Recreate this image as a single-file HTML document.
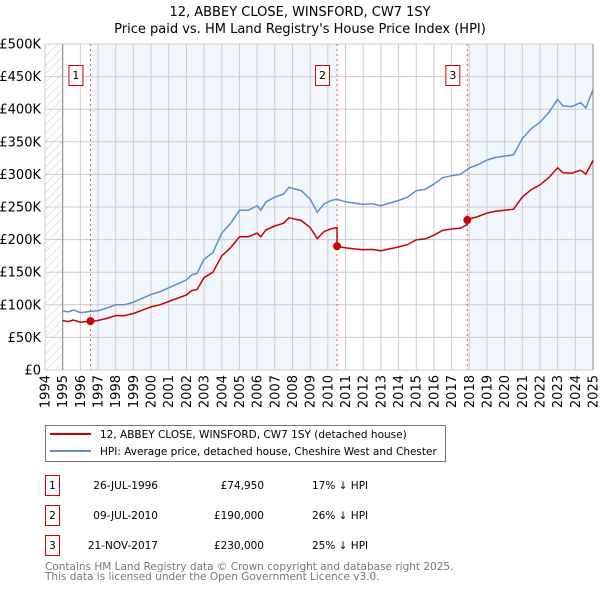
<!DOCTYPE html>
<html><head><meta charset="utf-8"><style>
body{margin:0;background:#fff;}
svg{display:block;font-family:"DejaVu Sans","Liberation Sans",sans-serif;}
</style></head><body>
<svg id="c" width="600" height="590" xmlns="http://www.w3.org/2000/svg">
<defs><pattern id="hatch" width="6" height="6" patternUnits="userSpaceOnUse" patternTransform="rotate(45)"><line x1="0" y1="0" x2="0" y2="6" stroke="#ccc" stroke-width="1"/></pattern></defs>
<text x="300" y="16" text-anchor="middle" font-size="13">12, ABBEY CLOSE, WINSFORD, CW7 1SY</text>
<text x="300" y="33" text-anchor="middle" font-size="13">Price paid vs. HM Land Registry's House Price Index (HPI)</text>
<g id="plot"></g>
<g>
<rect x="45.5" y="425.5" width="400" height="36" fill="#fff" stroke="#777"/>
<line x1="50" y1="434" x2="91" y2="434" stroke="#cc0000" stroke-width="2"/>
<text x="100" y="438" font-size="10.5">12, ABBEY CLOSE, WINSFORD, CW7 1SY (detached house)</text>
<line x1="50" y1="451" x2="91" y2="451" stroke="#5b8ed0" stroke-width="2"/>
<text x="100" y="455" font-size="10.5">HPI: Average price, detached house, Cheshire West and Chester</text>
</g>
<g font-size="10.5">
<rect x="45.5" y="475.5" width="14" height="20" fill="#fff" stroke="#cc0000"/><text x="52.5" y="489" text-anchor="middle">1</text>
<text x="158" y="489" text-anchor="end">26-JUL-1996</text><text x="264" y="489" text-anchor="end">£74,950</text><text x="312" y="489">17% ↓ HPI</text>
<rect x="45.5" y="505.5" width="14" height="20" fill="#fff" stroke="#cc0000"/><text x="52.5" y="519" text-anchor="middle">2</text>
<text x="158" y="519" text-anchor="end">09-JUL-2010</text><text x="264" y="519" text-anchor="end">£190,000</text><text x="312" y="519">26% ↓ HPI</text>
<rect x="45.5" y="535.5" width="14" height="20" fill="#fff" stroke="#cc0000"/><text x="52.5" y="549" text-anchor="middle">3</text>
<text x="158" y="549" text-anchor="end">21-NOV-2017</text><text x="264" y="549" text-anchor="end">£230,000</text><text x="312" y="549">25% ↓ HPI</text>
</g>
<text x="45" y="570" font-size="10.5" fill="#777">Contains HM Land Registry data © Crown copyright and database right 2025.</text>
<text x="45" y="580" font-size="10.5" fill="#777">This data is licensed under the Open Government Licence v3.0.</text>
</svg>
<script>
const hpiYears=[1995,1995.3,1995.6,1996,1996.3,1996.6,1997,1997.5,1998,1998.5,1999,1999.5,2000,2000.5,2001,2001.5,2002,2002.3,2002.6,2003,2003.5,2004,2004.5,2005,2005.5,2006,2006.2,2006.5,2007,2007.5,2007.8,2008.5,2009,2009.4,2009.8,2010.2,2010.5,2011,2011.5,2012,2012.5,2013,2013.5,2014,2014.5,2015,2015.5,2016,2016.5,2017,2017.5,2018,2018.5,2019,2019.5,2020,2020.5,2021,2021.5,2022,2022.5,2023,2023.3,2023.8,2024.3,2024.6,2025];
const hpiValues=[91,89,92,88,89,90,91,95,100,100,104,110,116,120,126,132,138,146,148,170,180,210,225,245,245,252,245,258,265,270,280,275,262,242,255,260,262,258,256,254,255,252,256,260,265,275,277,285,295,298,300,310,315,322,326,328,330,355,370,380,395,415,405,404,410,402,430];
const saleYears=[1996.57,2010.52,2017.89];
const salePrices=[74.95,190,230];
const saleLabels=["1","2","3"];
const yTicks=[0,50,100,150,200,250,300,350,400,450,500];
const yTickLabels=["£0","£50K","£100K","£150K","£200K","£250K","£300K","£350K","£400K","£450K","£500K"];
const xYears=[1994,1995,1996,1997,1998,1999,2000,2001,2002,2003,2004,2005,2006,2007,2008,2009,2010,2011,2012,2013,2014,2015,2016,2017,2018,2019,2020,2021,2022,2023,2024,2025];

const X0=45,X1=593,Y0=370,Y1=44;
const xs=y=>X0+(y-1994)/(2025-1994)*(X1-X0);
const ys=v=>Y0-v/500*(Y0-Y1);
const NS="http://www.w3.org/2000/svg";
const g=document.getElementById('plot');
function mk(t,a){const e=document.createElementNS(NS,t);for(const k in a)e.setAttribute(k,a[k]);g.appendChild(e);return e;}
function hpiAt(y){for(let i=1;i<hpiYears.length;i++){if(y<=hpiYears[i]){const t=(y-hpiYears[i-1])/(hpiYears[i]-hpiYears[i-1]);return hpiValues[i-1]+t*(hpiValues[i]-hpiValues[i-1]);}}return hpiValues[hpiValues.length-1];}

let e=mk('rect',{x:X0,y:Y1,width:xs(1995)-X0,height:Y0-Y1,fill:'url(#hatch)'});


const bands=[[saleYears[0],saleYears[1]],[saleYears[2],2025]];
bands.forEach(b=>{const r=mk('rect',{x:xs(b[0]),y:Y1,width:xs(b[1])-xs(b[0]),height:Y0-Y1,fill:'#f2f6fd'});

});
yTicks.forEach((v,i)=>{const l=mk('line',{x1:X0,x2:X1,y1:ys(v),y2:ys(v),stroke:'#ccc','stroke-width':1});


const t=mk('text',{x:41,y:ys(v)+4.5,'text-anchor':'end','font-size':13});t.textContent=yTickLabels[i];

});
xYears.forEach(yr=>{const l=mk('line',{x1:xs(yr),x2:xs(yr),y1:Y1,y2:Y0,stroke:'#ccc','stroke-width':1});


const t=mk('text',{x:0,y:0,'text-anchor':'end','font-size':13,transform:`translate(${xs(yr)+4.5},375) rotate(-90)`});t.textContent=yr;

});
mk('line',{x1:xs(1995),x2:xs(1995),y1:Y1,y2:Y0,stroke:'#888'});
mk('line',{x1:X1,x2:X1,y1:Y1,y2:Y0,stroke:'#888'});
saleYears.forEach((sy,i)=>{const l=mk('line',{x1:xs(sy),x2:xs(sy),y1:Y1,y2:Y0,stroke:'#e06060','stroke-dasharray':'2,3'});


const r=mk('rect',{x:xs(sy)-21.5,y:65.5,width:14,height:20,fill:'#fff',stroke:'#cc0000'});


const t=mk('text',{x:xs(sy)-14.5,y:79,'text-anchor':'middle','font-size':11});t.textContent=saleLabels[i];});
let d=hpiYears.map((y,i)=>(i?'L':'M')+xs(y).toFixed(1)+','+ys(hpiValues[i]).toFixed(1)).join('');
e=mk('path',{d:d,fill:'none',stroke:'#5b8ed0','stroke-width':1.5});


const ratios=saleYears.map((s,i)=>salePrices[i]/hpiAt(s));
const pts=[];
function seg(y){let k=0;for(let i=0;i<saleYears.length;i++)if(y>=saleYears[i])k=i;return k;}
const ally=hpiYears.concat(saleYears).sort((a,b)=>a-b);
ally.forEach(y=>{const k=seg(y);
 if(saleYears.includes(y)&&saleYears.indexOf(y)>0){pts.push([y,hpiAt(y)*ratios[k-1]]);}
 pts.push([y,hpiAt(y)*ratios[k]]);});
d=pts.map((p,i)=>(i?'L':'M')+xs(p[0]).toFixed(1)+','+ys(p[1]).toFixed(1)).join('');
e=mk('path',{d:d,fill:'none',stroke:'#cc0000','stroke-width':1.5});


saleYears.forEach((sy,i)=>{const c=mk('circle',{cx:xs(sy),cy:ys(salePrices[i]),r:4,fill:'#cc0000'});

});
</script>
</body></html>
